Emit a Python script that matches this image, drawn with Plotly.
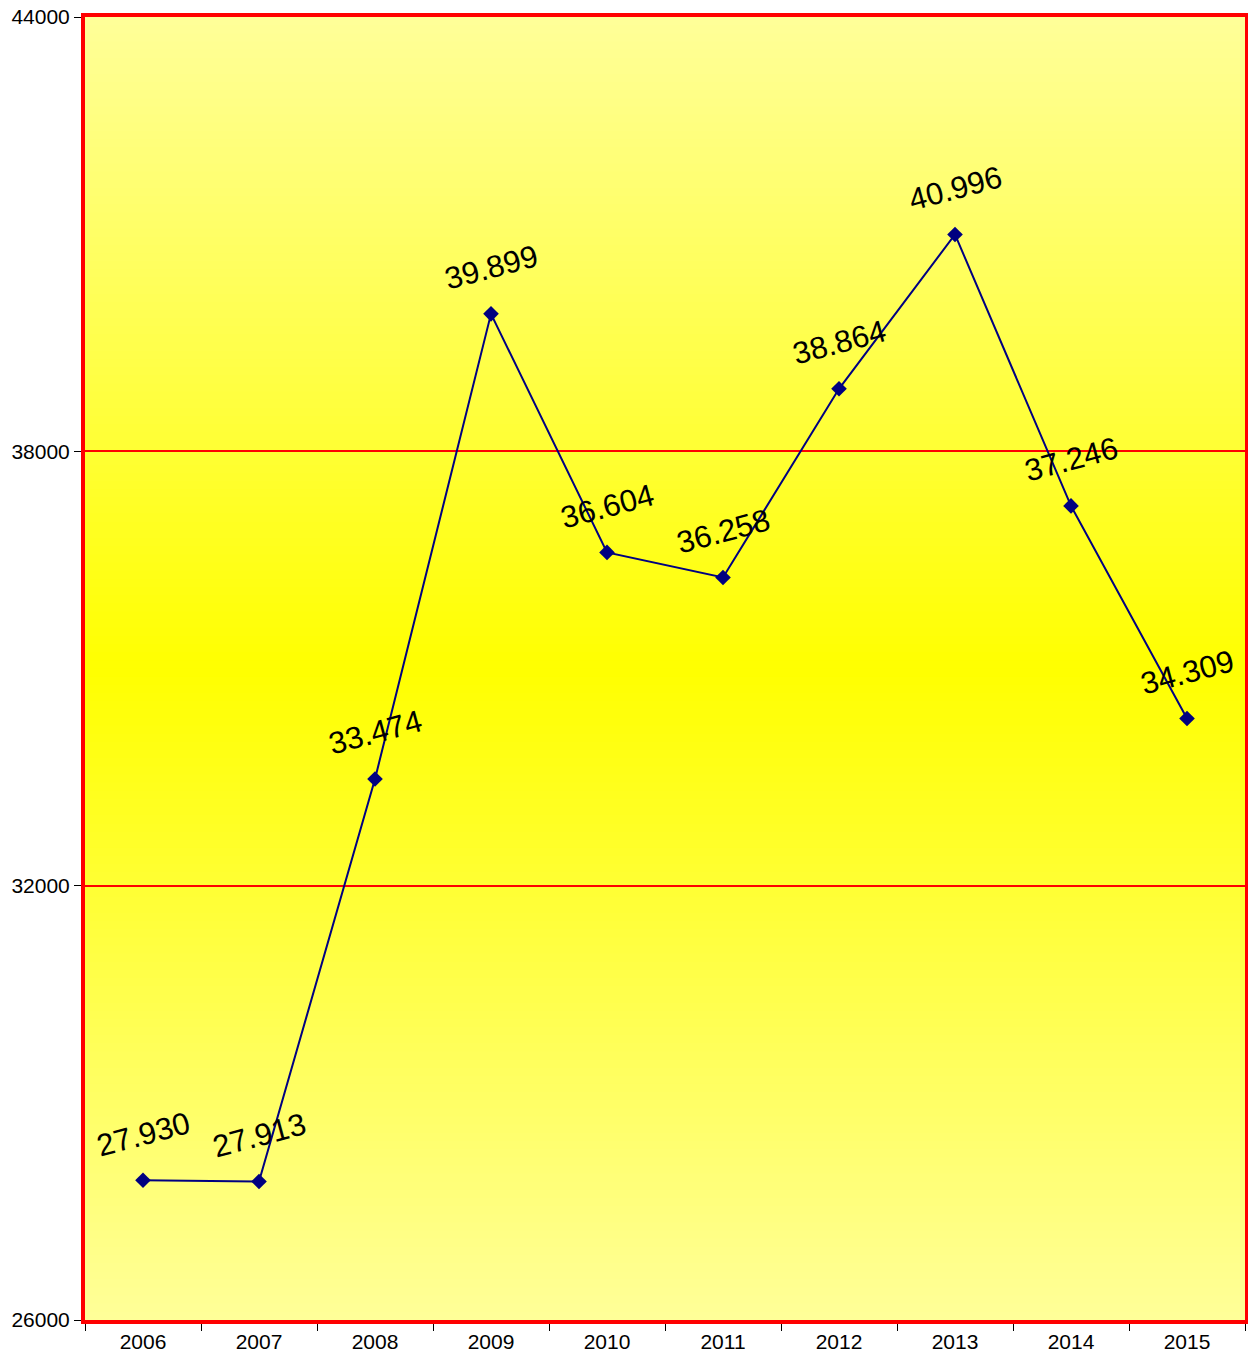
import plotly.graph_objects as go

years = ["2006", "2007", "2008", "2009", "2010", "2011", "2012", "2013", "2014", "2015"]
values = [27930, 27913, 33474, 39899, 36604, 36258, 38864, 40996, 37246, 34309]
labels = ["27.930", "27.913", "33.474", "39.899", "36.604", "36.258", "38.864", "40.996", "37.246", "34.309"]
y_ticks = [26000, 32000, 38000, 44000]

fig = go.Figure()
fig.add_trace(go.Scatter(
    x=years, y=values, mode="lines+markers",
    line=dict(color="#000080", width=2),
    marker=dict(symbol="diamond", size=12, color="#000080"),
    showlegend=False, cliponaxis=False, hoverinfo="skip",
))

# vertical gradient background (light -> bright yellow -> light)
n = 160
shapes = []
for i in range(n):
    f = (i + 0.5) / n
    d = abs(f - 0.5) * 2  # 0 at centre, 1 at edges
    b = int(round(0x99 * d))
    shapes.append(dict(type="rect", xref="paper", yref="paper",
                       x0=0, x1=1, y0=i / n, y1=min(1, (i + 1.6) / n),
                       fillcolor=f"rgb(255,255,{b})", line=dict(width=0),
                       layer="below"))

annotations = []
for i, (v, t) in enumerate(zip(values, labels)):
    annotations.append(dict(x=i, y=v, xref="x", yref="y", text=t,
                            showarrow=False, yshift=46, textangle=-15,
                            font=dict(size=31, color="black",
                                      family="Liberation Sans, Arial")))

fig.update_layout(
    shapes=shapes,
    annotations=annotations,
    width=1248, height=1358,
    margin=dict(l=85, r=3, t=17, b=38, autoexpand=False),
    paper_bgcolor="white", plot_bgcolor="#ffff99",
    font=dict(family="Liberation Sans, Arial", size=21, color="black"),
    xaxis=dict(type="category", tickson="boundaries", ticks="outside",
               ticklen=7, tickcolor="black", showgrid=False, automargin=False,
               showline=True, linecolor="red", linewidth=4, mirror=True,
               tickfont=dict(size=21), range=[-0.5, 9.5]),
    yaxis=dict(range=[26000, 44000], tickvals=y_ticks,
               ticktext=[str(v) for v in y_ticks], automargin=False,
               ticks="outside", ticklen=7, tickcolor="black",
               ticklabeloverflow="allow",
               showgrid=True, gridcolor="red", gridwidth=2,
               showline=True, linecolor="red", linewidth=4, mirror=True,
               zeroline=False, tickfont=dict(size=21)),
)

fig.write_html("out.html", config={"displayModeBar": False},
               post_script="document.body.style.margin='0';document.body.style.overflow='hidden';")
